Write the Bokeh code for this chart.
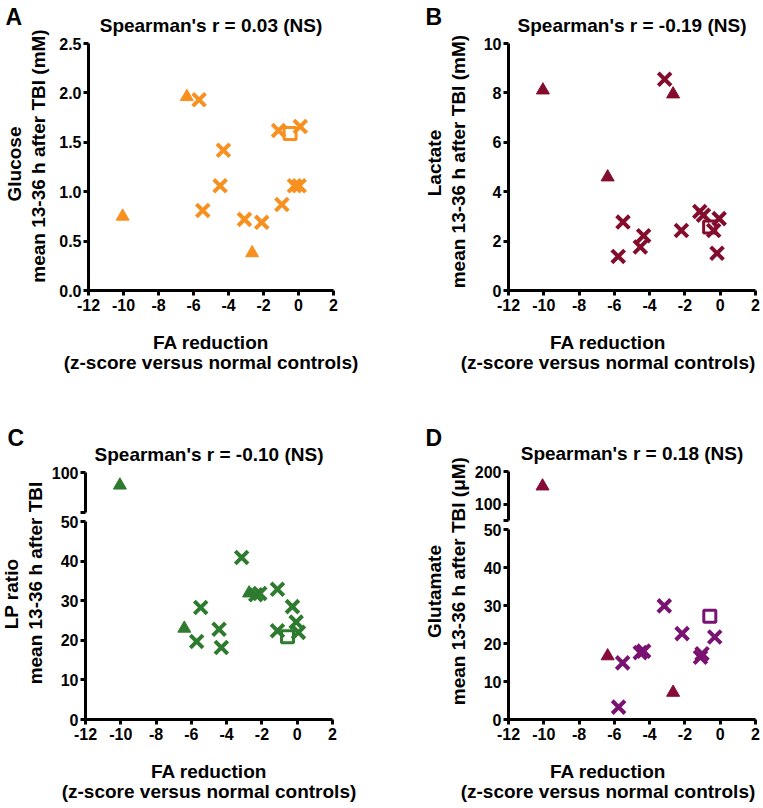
import math
from bokeh.plotting import figure
from bokeh.models import Range1d, FixedTicker, Label
from bokeh.layouts import row, column
from bokeh.embed import file_html
from bokeh.resources import INLINE

FONT = "Liberation Sans"

# ---------------- data ----------------
x_ticks = [-12, -10, -8, -6, -4, -2, 0, 2]
x_tick_labels = ["-12", "-10", "-8", "-6", "-4", "-2", "0", "2"]

# A: Glucose (mM)
glu_tri_x = [-10.05, -6.38, -2.65]
glu_tri_y = [0.75, 1.96, 0.38]
glu_x_x = [-5.68, -5.47, -4.48, -4.29, -3.09, -2.10, -1.14, -0.95, -0.23, 0.04, 0.10]
glu_x_y = [1.93, 0.81, 1.06, 1.42, 0.72, 0.69, 1.62, 0.87, 1.06, 1.06, 1.66]
glu_sq_x = [-0.48]
glu_sq_y = [1.59]
glu_y_ticks = [0.0, 0.5, 1.0, 1.5, 2.0, 2.5]
glu_y_labels = ["0.0", "0.5", "1.0", "1.5", "2.0", "2.5"]

# B: Lactate (mM)
lac_tri_x = [-10.05, -6.38, -2.67]
lac_tri_y = [8.11, 4.59, 7.95]
lac_x_x = [-3.15, -5.51, -5.78, -4.34, -4.53, -2.20, -1.16, -0.95, -0.06, -0.18, -0.37]
lac_x_y = [8.55, 2.77, 1.38, 2.22, 1.76, 2.43, 3.20, 3.05, 2.91, 1.51, 2.43]
lac_sq_x = [-0.60]
lac_sq_y = [2.57]
lac_y_ticks = [0, 2, 4, 6, 8, 10]
lac_y_labels = ["0", "2", "4", "6", "8", "10"]

# C: LP ratio (broken axis 0-50 / 50-100)
lp_tri_x = [-10.05, -6.40, -2.73]
lp_tri_y = [84.0, 23.0, 31.9]
lp_x_x = [-3.15, -5.47, -5.70, -4.43, -4.30, -2.35, -2.12, -1.12, -0.27, -1.12, -0.06, 0.07]
lp_x_y = [40.9, 28.3, 19.7, 22.8, 18.2, 31.5, 31.8, 32.9, 28.5, 22.4, 24.6, 22.0]
lp_sq_x = [-0.55]
lp_sq_y = [20.9]
lp_low_ticks = [0, 10, 20, 30, 40, 50]
lp_low_labels = ["0", "10", "20", "30", "40", "50"]
lp_up_ticks = [100]
lp_up_labels = ["100"]

# D: Glutamate (uM) (broken axis 0-50 / 50-200)
glt_tri_x = [-10.07, -6.38, -2.67]
glt_tri_y = [155.0, 16.7, 7.1]
glt_x_x = [-3.17, -2.16, -5.53, -5.76, -4.53, -4.34, -1.12, -1.03, -0.31]
glt_x_y = [29.9, 22.6, 14.9, 3.25, 17.6, 18.0, 16.4, 17.3, 21.7]
glt_sq_x = [-0.59]
glt_sq_y = [27.2]
glt_low_ticks = [0, 10, 20, 30, 40, 50]
glt_low_labels = ["0", "10", "20", "30", "40", "50"]
glt_up_ticks = [100, 200]
glt_up_labels = ["100", "200"]

X0, X1 = -12, 2


def make_fig(w, h, left, right, top, bottom, y0, y1):
    """Whole canvas is the frame; axes sit at fixed data locations inside it."""
    aw = w - left - right
    ah = h - top - bottom
    ppx = aw / (X1 - X0)
    ppy = ah / (y1 - y0)
    p = figure(width=w, height=h,
               x_range=Range1d(X0 - left / ppx, X1 + right / ppx),
               y_range=Range1d(y0 - bottom / ppy, y1 + top / ppy),
               output_backend="svg", toolbar_location=None,
               min_border=0)
    p.outline_line_color = None
    p.grid.visible = False
    p.background_fill_color = "white"
    p.border_fill_color = "white"
    for ax in (p.xaxis[0], p.yaxis[0]):
        ax.axis_line_width = 3
        ax.axis_line_color = "black"
        ax.major_tick_line_width = 3
        ax.major_tick_line_color = "black"
        ax.major_tick_out = 5
        ax.major_tick_in = 0
        ax.minor_tick_line_color = None
        ax.major_label_text_font = FONT
        ax.major_label_text_font_style = "bold"
        ax.major_label_text_font_size = "16px"
        ax.major_label_text_color = "black"
    p.xaxis.fixed_location = y0
    p.xaxis.bounds = (X0, X1)
    p.yaxis.fixed_location = X0
    p.yaxis.bounds = (y0, y1)
    p.xaxis.ticker = FixedTicker(ticks=x_ticks)
    p.xaxis.major_label_overrides = {t: l for t, l in zip(x_ticks, x_tick_labels)}
    p.xaxis.major_label_standoff = 3
    p.yaxis.major_label_standoff = 2
    return p


def txt(p, x, y, text, size, align="center", angle=0.0):
    # x, y in screen pixels (origin at canvas bottom-left, y up)
    p.add_layout(Label(x=x, y=y, x_units="screen", y_units="screen", text=text,
                       text_font=FONT, text_font_style="bold",
                       text_font_size=f"{size}px", text_align=align,
                       text_baseline="alphabetic", angle=angle, text_color="black"))


def decorate(p, w, h, left, right, top, bottom, letter, letter_x, letter_base,
             title, ylab1, ylab2, l1_dy, l2_dy, xlab_dx=0):
    aw = w - left - right
    ah = h - top - bottom
    cx = left + aw / 2
    cy = bottom + ah / 2
    txt(p, letter_x, h - letter_base + 6, letter, 23, align="left")
    txt(p, cx, bottom + ah + 18, title, 19)
    txt(p, cx + xlab_dx, bottom - 52, "FA reduction", 19)
    txt(p, cx + xlab_dx, bottom - 72, "(z-score versus normal controls)", 19)
    txt(p, left - 74, cy + l1_dy, ylab1, 19, angle=math.pi / 2)
    txt(p, left - 50, cy + l2_dy, ylab2, 19, angle=math.pi / 2)


def markers(p, color, tri_color, tx, ty, xx, xy, sx, sy):
    p.scatter(tx, ty, marker="triangle", size=13, fill_color=tri_color, line_color=tri_color)
    p.scatter(xx, xy, marker="x", size=18, line_color=color, line_width=4)
    p.scatter(sx, sy, marker="square", size=12, fill_color=None, line_color=color, line_width=3)


def breaker(lo_top, lo_px, gap_px, up_lo, up_hi, up_px):
    def f(v):
        if v <= lo_top:
            return round(v * lo_px / lo_top, 4)
        return round(lo_px + gap_px + (v - up_lo) * up_px / (up_hi - up_lo), 4)
    return f


# ---------------- Panel A ----------------
geoA = (380, 400, 88, 47, 43, 110)
pA = make_fig(*geoA, 0, 2.5)
pA.yaxis.ticker = FixedTicker(ticks=glu_y_ticks)
pA.yaxis.major_label_overrides = {t: l for t, l in zip(glu_y_ticks, glu_y_labels)}
markers(pA, "#F7901E", "#F7901E", glu_tri_x, glu_tri_y, glu_x_x, glu_x_y, glu_sq_x, glu_sq_y)
decorate(pA, *geoA, "A", 5, 22, "Spearman's r = 0.03 (NS)", "Glucose",
         "mean 13-36 h after TBI (mM)", 3, 11)

# ---------------- Panel B ----------------
geoB = (383, 400, 128, 8, 43, 110)
pB = make_fig(*geoB, 0, 10)
pB.yaxis.ticker = FixedTicker(ticks=lac_y_ticks)
pB.yaxis.major_label_overrides = {t: l for t, l in zip(lac_y_ticks, lac_y_labels)}
markers(pB, "#840C2C", "#840C2C", lac_tri_x, lac_tri_y, lac_x_x, lac_x_y, lac_sq_x, lac_sq_y)
decorate(pB, *geoB, "B", 45, 22, "Spearman's r = -0.19 (NS)", "Lactate",
         "mean 13-36 h after TBI  (mM)", 4, 8, xlab_dx=-24)

# ---------------- Panel C (broken axis) ----------------
c_lo_px, c_gap, c_up_px = 198, 9, 40
bC = breaker(50, c_lo_px, c_gap, 50, 100, c_up_px)
c_tot = c_lo_px + c_gap + c_up_px
geoC = (380, 408, 85, 48, 72, 89)
pC = make_fig(*geoC, 0, c_tot)
c_ticks = [bC(v) for v in lp_low_ticks] + [c_lo_px + c_gap] + [bC(v) for v in lp_up_ticks]
c_labels = lp_low_labels + [""] + lp_up_labels
pC.yaxis.ticker = FixedTicker(ticks=c_ticks)
pC.yaxis.major_label_overrides = {t: l for t, l in zip(c_ticks, c_labels)}
pC.yaxis.axis_line_dash = f"{c_lo_px} {c_gap} {c_up_px}"
markers(pC, "#2E7B30", "#2E7B30", lp_tri_x, [bC(v) for v in lp_tri_y],
        lp_x_x, [bC(v) for v in lp_x_y], lp_sq_x, [bC(v) for v in lp_sq_y])
decorate(pC, *geoC, "C", 7, 43, "Spearman's r = -0.10 (NS)", "LP ratio",
         "mean 13-36 h after TBI", 2, 13)

# ---------------- Panel D (broken axis) ----------------
d_lo_px, d_gap, d_up_px = 190, 9, 49
bD = breaker(50, d_lo_px, d_gap, 50, 200, d_up_px)
d_tot = d_lo_px + d_gap + d_up_px
geoD = (383, 408, 128, 8, 71, 89)
pD = make_fig(*geoD, 0, d_tot)
d_ticks = [bD(v) for v in glt_low_ticks] + [d_lo_px + d_gap] + [bD(v) for v in glt_up_ticks]
d_labels = glt_low_labels + [""] + glt_up_labels
pD.yaxis.ticker = FixedTicker(ticks=d_ticks)
pD.yaxis.major_label_overrides = {t: l for t, l in zip(d_ticks, d_labels)}
pD.yaxis.axis_line_dash = f"{d_lo_px} {d_gap} {d_up_px}"
markers(pD, "#7A1271", "#860A3A", glt_tri_x, [bD(v) for v in glt_tri_y],
        glt_x_x, [bD(v) for v in glt_x_y], glt_sq_x, [bD(v) for v in glt_sq_y])
decorate(pD, *geoD, "D", 45, 43, "Spearman's r = 0.18 (NS)", "Glutamate",
         "mean 13-36 h after TBI  (\u03bcM)", 4, 17, xlab_dx=-24)

layout = row(column(pA, pC), column(pB, pD))
open("out.html", "w").write(file_html(layout, INLINE))
